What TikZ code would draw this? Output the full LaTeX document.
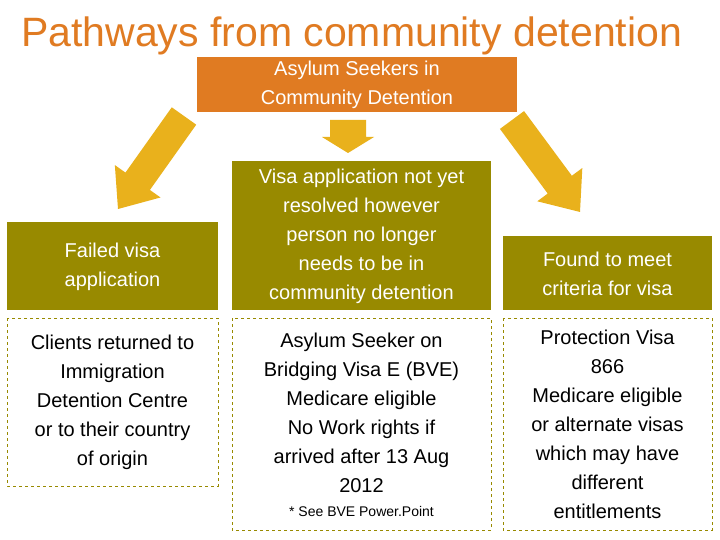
\documentclass[tikz,border=0pt]{standalone}
\usepackage{fontspec}
\setmainfont{Liberation Sans}
\usetikzlibrary{calc}
\definecolor{oliveC}{HTML}{988A00}
\definecolor{orC}{HTML}{E07B22}
\definecolor{yelC}{HTML}{E9B11C}
\newcommand{\blockarr}[2]{%
  \fill[yelC] (#1)
   -- ($($(#1)!34pt!(#2)$)!28pt!90:(#2)$)
   -- ($($(#1)!34pt!(#2)$)!15pt!90:(#2)$)
   -- ($(#2)!15pt!-90:(#1)$)
   -- ($(#2)!15pt!90:(#1)$)
   -- ($($(#1)!34pt!(#2)$)!15pt!-90:(#2)$)
   -- ($($(#1)!34pt!(#2)$)!28pt!-90:(#2)$) -- cycle;}
\begin{document}
\begin{tikzpicture}[x=1pt,y=-1pt,
  olive/.style={fill=oliveC,text=white,align=center,inner sep=0pt},
  dbox/.style={draw=oliveC,dashed,line width=1pt,align=center,inner sep=0pt,text=black}]
\useasboundingbox (0,0) rectangle (720,540);
\fill[white] (0,0) rectangle (720,540);
\node[anchor=west,text=orC,font=\fontsize{41}{46}\selectfont,inner sep=0pt] (title) at (21,36) {Pathways from community detention};
\fill[orC] (197,57) rectangle (517,112);
\node[text=white,align=center,font=\fontsize{20}{29}\selectfont] (top) at (357,85) {Asylum Seekers in\\Community Detention};
% middle arrow
\fill[yelC] (330,120) -- (366,120) -- (366,137) -- (374,137) -- (348,153) -- (322,137) -- (330,137) -- cycle;
\coordinate (lt) at (118,209); \coordinate (lb) at (184,116);
\coordinate (rt) at (580,212); \coordinate (rb) at (512,120);
\blockarr{lt}{lb}
\blockarr{rt}{rb}
% boxes
\fill[oliveC] (7,222) rectangle (218,310);
\node[text=white,align=center,font=\fontsize{20}{29}\selectfont] (fail) at (112.5,267) {Failed visa\\application};
\fill[oliveC] (232,161) rectangle (491,310);
\node[text=white,align=center,font=\fontsize{20}{29}\selectfont] (mid) at (361.5,236) {Visa application not yet\\resolved however\\person no longer\\needs to be in\\community detention};
\fill[oliveC] (503,236) rectangle (712,310);
\node[text=white,align=center,font=\fontsize{20}{29}\selectfont] (found) at (607.5,274) {Found to meet\\criteria for visa};
% dashed boxes
\draw[draw=oliveC,dashed,line width=1pt] (7,318) rectangle (218,486);
\node[align=center,font=\fontsize{20}{29}\selectfont] (ret) at (112.5,402) {Clients returned to\\Immigration\\Detention Centre\\or to their country\\of origin};
\draw[draw=oliveC,dashed,line width=1pt] (232,318) rectangle (491,530);
\node[align=center,font=\fontsize{20}{29}\selectfont] (bve) at (361.5,413) {Asylum Seeker on\\Bridging Visa E (BVE)\\Medicare eligible\\No Work rights if\\arrived after 13 Aug\\2012};
\node[font=\fontsize{14}{16}\selectfont] (see) at (361.5,511) {* See BVE Power.Point};
\draw[draw=oliveC,dashed,line width=1pt] (503,318) rectangle (712,530);
\node[align=center,font=\fontsize{20}{29}\selectfont] (prot) at (607.5,424) {Protection Visa\\866\\Medicare eligible\\or alternate visas\\which may have\\different\\entitlements};
\end{tikzpicture}
\end{document}
